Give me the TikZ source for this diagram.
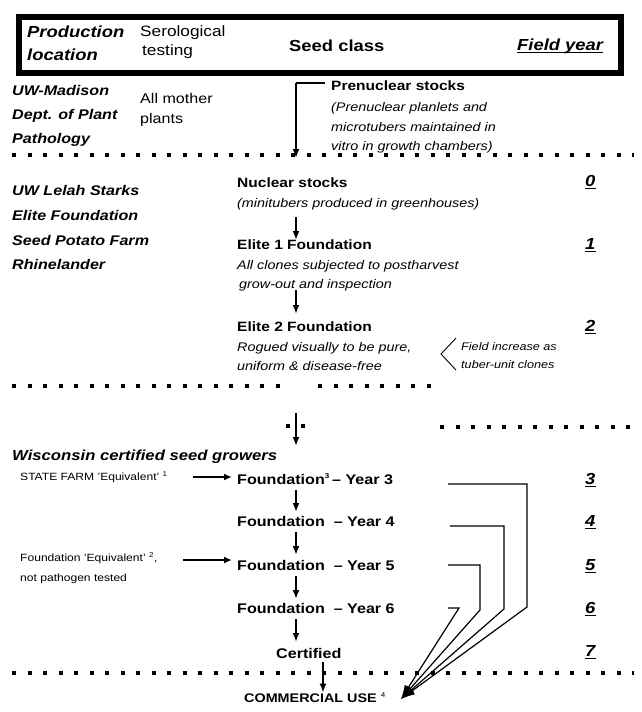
\documentclass[tikz,border=0pt]{standalone}
\usepackage{fontspec}
\setmainfont{Liberation Sans}[FakeStretch=1.15]
\usetikzlibrary{arrows.meta}
\begin{document}
\begin{tikzpicture}[x=1pt,y=-1pt,
  every node/.style={inner sep=0pt, anchor=base west},
  hd/.style={font=\fontsize{16}{18}\selectfont\bfseries},
  hdi/.style={font=\fontsize{16}{18}\selectfont\bfseries\itshape},
  hdr/.style={font=\fontsize{15}{18}\selectfont},
  loc/.style={font=\fontsize{14}{16}\selectfont\bfseries\itshape},
  plain/.style={font=\fontsize{14}{16}\selectfont},
  cls/.style={font=\fontsize{13.5}{16}\selectfont\bfseries},
  fnd/.style={font=\fontsize{14}{16}\selectfont\bfseries},
  note/.style={font=\fontsize{12.5}{15}\selectfont\itshape},
  small/.style={font=\fontsize{10.5}{12}\selectfont},
  smalli/.style={font=\fontsize{11}{13}\selectfont\itshape},
  yr/.style={font=\fontsize{16}{18}\selectfont\bfseries\itshape},
  wis/.style={font=\fontsize{14.5}{17}\selectfont\bfseries\itshape},
  dotrule/.style={line width=4pt, dash pattern=on 4pt off 11.5pt},
  down/.style={line width=1.8pt, -{Latex[length=9pt,width=7pt]}},
  side/.style={line width=1.8pt, -{Latex[length=8pt,width=7pt]}, shorten >=5pt},
  conv/.style={line width=1.2pt, -{Latex[length=14pt,width=9pt]}},
  ul/.style={line width=1.6pt}
]
\useasboundingbox (0,0) rectangle (642,712);

% header frame
\node[draw, line width=6pt, minimum width=602pt, minimum height=56pt, anchor=north west] (frame) at (16,14) {};
\node[hdi] (h1a) at (27,37) {Production};
\node[hdi] (h1b) at (27,60) {location};
\node[hdr] (h2a) at (140,36) {Serological};
\node[hdr] (h2b) at (142,55) {testing};
\node[hd] (h3) at (289,51) {Seed class};
\node[hdi] (h4) at (517,50) {Field year};
\draw[line width=1.3pt] ([yshift=-2.5pt]h4.base west) -- ([yshift=-2.5pt]h4.base east);

% UW-Madison block
\node[loc] (m1) at (12,95) {UW-Madison};
\node[loc] (m2) at (12,119) {Dept. of Plant};
\node[loc] (m3) at (12,143) {Pathology};
\node[plain] (s1) at (140,103) {All mother};
\node[plain] (s2) at (140,123) {plants};

\node[cls] (pre) at (331,90) {Prenuclear stocks};
\node[note] (pre1) at (331,111) {(Prenuclear planlets and};
\node[note] (pre2) at (331,131) {microtubers maintained in};
\node[note] (pre3) at (331,150) {vitro in growth chambers)};

\draw[dotrule] (12,155) -- (634,155);

% Lelah Starks block
\node[loc] (l1) at (12,195) {UW Lelah Starks};
\node[loc] (l2) at (12,220) {Elite Foundation};
\node[loc] (l3) at (12,245) {Seed Potato Farm};
\node[loc] (l4) at (12,269) {Rhinelander};

\node[cls] (nuc) at (237,187) {Nuclear stocks};
\node[note] (nuc1) at (237,207) {(minitubers produced in greenhouses)};
\node[cls] (e1) at (237,249) {Elite 1 Foundation};
\node[note] (e1a) at (237,269) {All clones subjected to postharvest};
\node[note] (e1b) at (239,288) {grow-out and inspection};
\node[cls] (e2) at (237,331) {Elite 2 Foundation};
\node[note] (e2a) at (237,351) {Rogued visually to be pure,};
\node[note] (e2b) at (237,370) {uniform \& disease-free};
\node[smalli] (fi1) at (461,350) {Field increase as};
\node[smalli] (fi2) at (461,368) {tuber-unit clones};
\coordinate (cv1) at (456,338);
\coordinate (cv2) at (441,354);
\coordinate (cv3) at (456,370);
\draw[line width=0.9pt] (cv1) -- (cv2) -- (cv3);

% field years
\node[yr] (y0) at (585,186) {0};
\node[yr] (y1) at (585,249) {1};
\node[yr] (y2) at (585,331) {2};
\node[yr] (y3) at (585,484) {3};
\node[yr] (y4) at (585,526) {4};
\node[yr] (y5) at (585,570) {5};
\node[yr] (y6) at (585,613) {6};
\node[yr] (y7) at (585,656) {7};
\foreach \n in {y0,y1,y2,y3,y4,y5,y6,y7}
  \draw[ul] ([yshift=-2.5pt]\n.base west) -- ([yshift=-2.5pt]\n.base east);

% arrows upper part
\coordinate (a0s) at (325,83);
\coordinate (a0c) at (296,83);
\coordinate (a0e) at (296,158);
\draw[line width=1.8pt] (a0s) -- (a0c);
\draw[down] (a0c) -- (a0e);
\coordinate (a1s) at (296,217);
\coordinate (a1e) at (296,240);
\draw[down] (a1s) -- (a1e);
\coordinate (a2s) at (296,290);
\coordinate (a2e) at (296,314);
\draw[down] (a2s) -- (a2e);

\draw[dotrule] (12,386) -- (280,386);
\draw[dotrule] (318,386) -- (434,386);
\draw[dotrule] (440,427) -- (634,427);
\draw[dotrule] (286,426) -- (290,426);
\draw[dotrule] (301,426) -- (305,426);
\coordinate (a3s) at (296,413);
\coordinate (a3e) at (296,446);
\draw[down] (a3s) -- (a3e);

% Wisconsin growers
\node[wis] (wis) at (12,460) {Wisconsin certified seed growers};
\node[small] (sf) at (20,480) {STATE FARM 'Equivalent' \textsuperscript{\fontsize{7}{7}\selectfont 1}};
\node[small] (fe1) at (20,561) {Foundation 'Equivalent' \textsuperscript{\fontsize{7}{7}\selectfont 2},};
\node[small] (fe2) at (20,581) {not pathogen tested};

\node[fnd] (f3) at (237,484) {Foundation\textsuperscript{\fontsize{7}{7}\selectfont 3}\,– Year 3};
\node[fnd] (f4) at (237,526) {Foundation\ \ – Year 4};
\node[fnd] (f5) at (237,570) {Foundation\ \ – Year 5};
\node[fnd] (f6) at (237,613) {Foundation\ \ – Year 6};
\node[fnd] (cert) at (276,658) {Certified};

\coordinate (sfa) at (193,477);
\draw[side] (sfa) -- (f3.west |- sfa);
\coordinate (fea) at (183,560);
\draw[side] (fea) -- (f5.west |- fea);

\coordinate (b3s) at (296,490);
\coordinate (b3e) at (296,512);
\draw[down] (b3s) -- (b3e);
\coordinate (b4s) at (296,532);
\coordinate (b4e) at (296,555);
\draw[down] (b4s) -- (b4e);
\coordinate (b5s) at (296,576);
\coordinate (b5e) at (296,599);
\draw[down] (b5s) -- (b5e);
\coordinate (b6s) at (296,619);
\coordinate (b6e) at (296,642);
\draw[down] (b6s) -- (b6e);

\draw[dotrule] (12,673) -- (634,673);
\coordinate (cs) at (323,662);
\node[font=\fontsize{12.5}{15}\selectfont\bfseries] (com) at (244,702) {COMMERCIAL USE \textsuperscript{\fontsize{7}{7}\selectfont\mdseries 4}};
\draw[down] (cs) -- (cs |- com.north);

% converging lines to commercial use
\coordinate (tip) at (401,699);
\coordinate (c3a) at (448,484);
\coordinate (c3b) at (527,484);
\coordinate (c3c) at (527,607);
\coordinate (c4a) at (450,526);
\coordinate (c4b) at (504,526);
\coordinate (c4c) at (504,609);
\coordinate (c5a) at (448,565);
\coordinate (c5b) at (480,565);
\coordinate (c5c) at (480,610);
\coordinate (c6a) at (448,608);
\coordinate (c6b) at (459,608);
\draw[conv] (c3a) -- (c3b) -- (c3c) -- (tip);
\draw[conv] (c4a) -- (c4b) -- (c4c) -- (tip);
\draw[conv] (c5a) -- (c5b) -- (c5c) -- (tip);
\draw[conv] (c6a) -- (c6b) -- (tip);
\end{tikzpicture}
\end{document}
